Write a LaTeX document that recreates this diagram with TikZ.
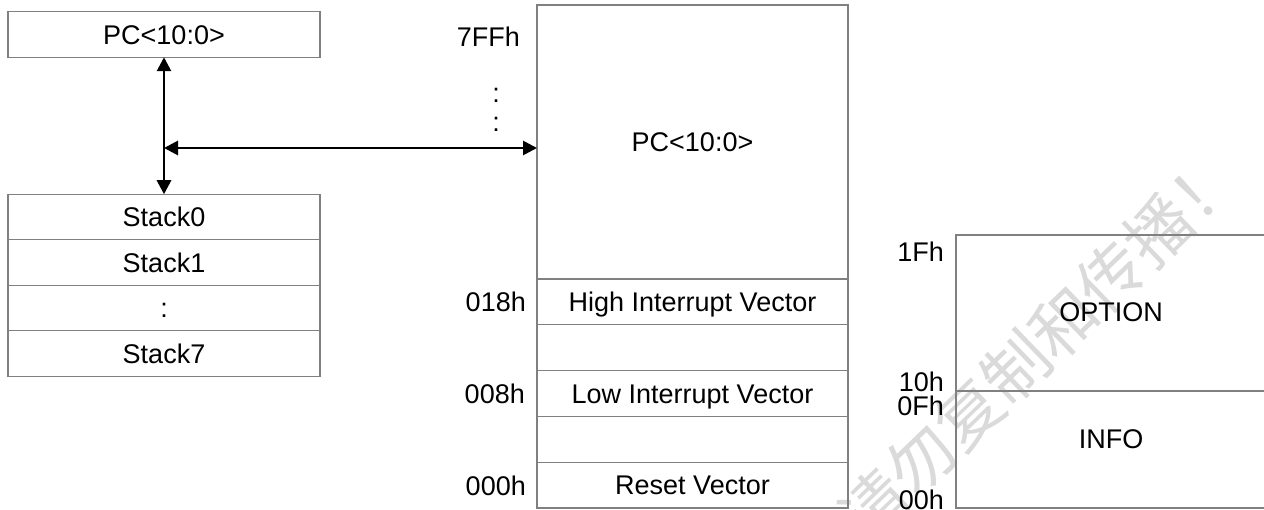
\documentclass[tikz,border=0pt]{standalone}
\usepackage{fontspec}
\setmainfont{Liberation Sans}
\newfontfamily\cjkfont{Noto Sans CJK SC}
\usetikzlibrary{arrows.meta, positioning, calc}
\definecolor{BoxGray}{RGB}{128,128,128}
\definecolor{MarkGray}{RGB}{218,218,218}
\tikzset{
  cell/.style={draw=BoxGray, line width=1.3pt, minimum width=312pt, minimum height=45.5pt,
    inner sep=0pt, outer sep=0pt, text height=19.3pt, text depth=0pt, font=\fontsize{27}{32}\selectfont},
  addr/.style={anchor=east, inner sep=0pt, text height=19.3pt, text depth=0pt, font=\fontsize{27}{32}\selectfont},
  plain/.style={inner sep=0pt, text height=19.3pt, text depth=0pt, font=\fontsize{27}{32}\selectfont},
  link/.style={line width=2.8pt, {Triangle[length=14pt,width=14pt]}-{Triangle[length=14pt,width=14pt]}}
}

\begin{document}
\begin{tikzpicture}[x=1pt, y=-1pt]
\useasboundingbox (0,0) rectangle (1264,510);

% watermark
\node[rotate=44, text=MarkGray, inner sep=0pt, font=\cjkfont\fontsize{66}{70}\selectfont]
  (mark) at (1040,345) {请勿复制和传播！};

% PC and stack
\node[cell] (pctop) at (164,34.5) {PC<10:0>};
\node[cell] (stk0) at (164,217) {Stack0};
\node[cell, below=0pt of stk0] (stk1) {Stack1};
\node[cell, below=0pt of stk1] (stkdots) {:};
\node[cell, below=0pt of stkdots] (stk7) {Stack7};

% program memory
\node[cell, minimum width=311pt, minimum height=274pt] (pcmem) at (692.5,142) {PC<10:0>};
\node[cell, minimum width=311pt, minimum height=45.8pt, below=0pt of pcmem] (hiv) {High Interrupt Vector};
\node[cell, minimum width=311pt, minimum height=45.8pt, below=0pt of hiv] (gapa) {};
\node[cell, minimum width=311pt, minimum height=45.8pt, below=0pt of gapa] (lov) {Low Interrupt Vector};
\node[cell, minimum width=311pt, minimum height=45.8pt, below=0pt of lov] (gapb) {};
\node[cell, minimum width=311pt, minimum height=45.8pt, below=0pt of gapb] (rst) {Reset Vector};

\node[addr] (a7ff) at (520,36.5) {7FFh};
\node[plain] (dota) at (496,93) {:};
\node[plain] (dotb) at (496,122) {:};
\node[addr] (a018) at (526,302) {018h};
\node[addr] (a008) at (525,394) {008h};
\node[addr] (a000) at (526,486) {000h};

% configuration
\node[cell, minimum width=312pt, minimum height=156pt, anchor=north west] (opt) at (956,235) {};
\node[cell, minimum width=312pt, minimum height=117pt, below=0pt of opt] (info) {};
\node[plain] (opttxt) at (1111,312) {OPTION};
\node[plain] (infotxt) at (1111,439) {INFO};

\node[addr] (a1f) at (944,252) {1Fh};
\node[addr] (a10) at (944,382) {10h};
\node[addr] (a0f) at (944,406) {0Fh};
\node[addr] (a00) at (944,500) {00h};

% connections
\coordinate (tee) at (164,148);
\draw[link] (pctop.south) -- (stk0.north);
\draw[link] (tee) -- (tee -| pcmem.west);
\end{tikzpicture}
\end{document}
